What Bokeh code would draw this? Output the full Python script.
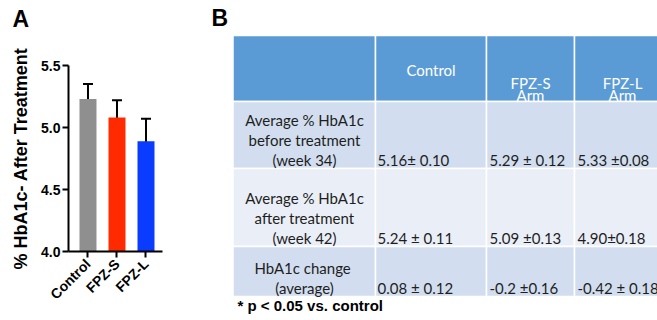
import math
from bokeh.plotting import figure
from bokeh.layouts import row, column
from bokeh.models import (Range1d, FixedTicker, ColumnDataSource, Whisker, TeeHead,
                          PrintfTickFormatter)
from bokeh.core.properties import value
from bokeh.embed import file_html
from bokeh.resources import INLINE

# ---------------- data ----------------
categories = ["Control", "FPZ-S", "FPZ-L"]
hba1c_after_mean = [5.23, 5.08, 4.89]
hba1c_after_err = [0.12, 0.14, 0.18]
y_ticks = [4.0, 4.5, 5.0, 5.5]
y_axis_title = "% HbA1c- After Treatment"

table_header = [["Control"], ["FPZ-S", "Arm"], ["FPZ-L", "Arm"]]
row_labels = [
    ["Average % HbA1c", "before treatment", "(week 34)"],
    ["Average % HbA1c", "after treatment", "(week 42)"],
    ["HbA1c  change", "(average)"],
]
before_values = ["5.16\u00b1 0.10", "5.29 \u00b1 0.12", "5.33 \u00b10.08"]
after_values = ["5.24 \u00b1 0.11", "5.09 \u00b10.13", "4.90\u00b10.18"]
change_values = ["0.08 \u00b1 0.12", "-0.2 \u00b10.16", "-0.42 \u00b1 0.18"]
footnote = "* p < 0.05 vs. control"
panel_letters = ["A", "B"]

# ---------------- styles ----------------
bar_colors = ["#8f8f8f", "#ff2a00", "#0a3cff"]
ARIAL = "Liberation Sans"
CAL = "Lato"
ADJ = -4      # baseline correction for 15px text


def bare(fig):
    fig.grid.grid_line_color = None
    fig.outline_line_color = None
    return fig


# ---------------- panel A heading strip ----------------
pt = bare(figure(width=208, height=45, output_backend="svg", toolbar_location=None,
                 x_range=Range1d(0, 208), y_range=Range1d(45, 0),
                 x_axis_location=None, y_axis_location=None, min_border=0, frame_align=False))
pt.text(x=[12], y=[18], text=[panel_letters[0]], text_align="left", text_baseline="alphabetic",
        text_font=value(ARIAL), text_font_style="bold", text_font_size="23px", text_color="black")

# ---------------- panel A ----------------
xs = list(range(len(categories)))
pa = figure(width=208, height=275, output_backend="svg", toolbar_location=None,
            x_range=Range1d(-0.672, 2.569), y_range=Range1d(4.0, 5.5),
            min_border_left=68, min_border_right=46, min_border_top=20, min_border_bottom=69,
            frame_align=False)
pa.vbar(x=xs, top=hba1c_after_mean, width=0.586, fill_color=bar_colors, line_color=None)

src = ColumnDataSource(dict(
    x=xs,
    upper=[m + e for m, e in zip(hba1c_after_mean, hba1c_after_err)],
    lower=[m - e for m, e in zip(hba1c_after_mean, hba1c_after_err)],
))
pa.add_layout(Whisker(base="x", upper="upper", lower="lower", source=src,
                      line_width=2, line_color="black",
                      upper_head=TeeHead(size=10, line_width=2, line_color="black"),
                      lower_head=TeeHead(size=10, line_width=2, line_color="black")))

pa.xaxis.ticker = FixedTicker(ticks=xs)
pa.xaxis.major_label_overrides = {i: c for i, c in enumerate(categories)}
pa.xaxis.major_label_orientation = math.pi / 4
pa.xaxis.major_label_standoff = 4
pa.yaxis.ticker = FixedTicker(ticks=y_ticks)
pa.yaxis.formatter = PrintfTickFormatter(format="%.1f")
pa.yaxis.major_label_standoff = 2
pa.yaxis.axis_label = y_axis_title
pa.yaxis.axis_label_standoff = 7
pa.yaxis.axis_label_text_font = ARIAL
pa.yaxis.axis_label_text_font_style = "bold"
pa.yaxis.axis_label_text_font_size = "18px"
pa.yaxis.axis_label_text_color = "black"
for ax in (pa.xaxis[0], pa.yaxis[0]):
    ax.axis_line_width = 2
    ax.axis_line_color = "black"
    ax.major_tick_line_width = 2
    ax.major_tick_line_color = "black"
    ax.major_tick_out = 6
    ax.major_tick_in = 0
    ax.minor_tick_line_color = None
    ax.major_label_text_font = ARIAL
    ax.major_label_text_font_style = "bold"
    ax.major_label_text_font_size = "14px"
    ax.major_label_text_color = "black"
bare(pa)

# ---------------- panel B (table) ----------------
pb = bare(figure(width=449, height=320, output_backend="svg", toolbar_location=None,
                 x_range=Range1d(208, 657), y_range=Range1d(320, 0),
                 x_axis_location=None, y_axis_location=None, min_border=0, frame_align=False))

col_edges = [232.5, 375, 486, 574, 662]
row_edges = [35, 101, 168, 246, 296]
row_fills = ["#5b9bd5", "#d2deef", "#eaeff7", "#d2deef"]

L, R, T, B, F = [], [], [], [], []
for r in range(len(row_edges) - 1):
    for c in range(len(col_edges) - 1):
        L.append(col_edges[c]); R.append(col_edges[c + 1])
        T.append(row_edges[r]); B.append(row_edges[r + 1])
        F.append(row_fills[r])
pb.quad(left=L, right=R, top=T, bottom=B, fill_color=F, line_color="white", line_width=1.5)

# header text
head_x = [430.5, 530, 622]
head_y0 = [73, 86, 86]
hx, hy, ht = [], [], []
for c, lines in enumerate(table_header):
    for k, t in enumerate(lines):
        hx.append(head_x[c]); hy.append(head_y0[c] + 12.5 * k + ADJ); ht.append(t)
pb.text(x=hx, y=hy, text=ht, text_align="center", text_baseline="alphabetic",
        text_font=value(CAL), text_font_size="15px", text_color="white")

# row labels
label_x = 304
label_y0 = [123, 201.5, 271.5]
lx, ly, lt = [], [], []
for r, lines in enumerate(row_labels):
    for k, t in enumerate(lines):
        lx.append(label_x); ly.append(label_y0[r] + 20 * k + ADJ); lt.append(t)
pb.text(x=lx, y=ly, text=lt, text_align="center", text_baseline="alphabetic",
        text_font=value(CAL), text_font_size="15px", text_color="#1e1e1e")

# values
val_x = [377, 489, 577]
val_y = [163, 241.5, 291.5]
vx, vy, vt = [], [], []
for r, vals in enumerate([before_values, after_values, change_values]):
    for c, t in enumerate(vals):
        vx.append(val_x[c]); vy.append(val_y[r] + ADJ); vt.append(t)
pb.text(x=vx, y=vy, text=vt, text_align="left", text_baseline="alphabetic",
        text_font=value(CAL), text_font_size="15px", text_color="#1e1e1e")

pb.text(x=[211], y=[17], text=[panel_letters[1]], text_align="left", text_baseline="alphabetic",
        text_font=value(ARIAL), text_font_style="bold", text_font_size="23px", text_color="black")
pb.text(x=[237], y=[309 + ADJ], text=[footnote], text_align="left", text_baseline="alphabetic",
        text_font=value(ARIAL), text_font_style="bold", text_font_size="15px", text_color="black")

layout = row(column(pt, pa), pb)
open("out.html", "w").write(file_html(layout, INLINE))
